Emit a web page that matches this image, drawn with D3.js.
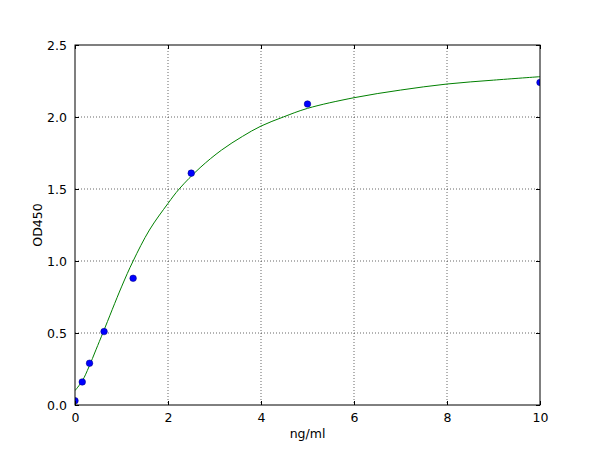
<!DOCTYPE html>
<html>
<head>
<meta charset="utf-8">
<script src="https://cdn.jsdelivr.net/npm/d3@7"></script>
<style>
  body { margin: 0; background: #fff; }
  svg text { font-family: "DejaVu Sans", sans-serif; fill: #000; }
</style>
</head>
<body>
<svg id="chart" width="600" height="450"></svg>
<script>
// standard points (concentration, OD)
const conc = [0, 0.156, 0.3125, 0.625, 1.25, 2.5, 5, 10];
const od = [0.03, 0.16, 0.29, 0.51, 0.88, 1.61, 2.09, 2.24];

// fitted curve
const curveX = [0, 0.156, 0.3, 0.45, 0.61, 1.0, 1.25, 1.6, 2.0, 2.24, 2.69, 3.15, 3.6, 4.0, 4.48, 5.0, 6.0, 7.0, 8.0, 9.0, 10.0];
const curveY = [0.10, 0.167, 0.265, 0.383, 0.509, 0.82, 1.0, 1.215, 1.40, 1.5, 1.648, 1.77, 1.865, 1.937, 2.0, 2.06, 2.134, 2.187, 2.229, 2.256, 2.28];

const xTicks = [0, 2, 4, 6, 8, 10];
const yTicks = [0.0, 0.5, 1.0, 1.5, 2.0, 2.5];

const svg = d3.select("#chart");
const m = {left: 75, right: 540, top: 45, bottom: 405};

let x = d3.scaleLinear().domain([0, 10]).range([m.left, m.right]);
let y = d3.scaleLinear().domain([0, 2.5]).range([m.bottom, m.top]);

// grid
let grid = svg.append("g");
grid.selectAll("line.gx").data(xTicks.slice(1, -1)).enter().append("line")
    .attr("x1", d => x(d)).attr("x2", d => x(d))
    .attr("y1", m.top).attr("y2", m.bottom)
    .attr("stroke", "#000").attr("stroke-width", 0.6)
    .attr("stroke-dasharray", "1,2");
grid.selectAll("line.gy").data(yTicks.slice(1, -1)).enter().append("line")
    .attr("y1", d => y(d)).attr("y2", d => y(d))
    .attr("x1", m.left).attr("x2", m.right)
    .attr("stroke", "#000").attr("stroke-width", 0.6)
    .attr("stroke-dasharray", "1,2");

svg.append("clipPath").attr("id", "clip")
    .append("rect").attr("x", m.left).attr("y", m.top)
    .attr("width", m.right - m.left).attr("height", m.bottom - m.top);

let plot = svg.append("g").attr("clip-path", "url(#clip)");

let line = d3.line()
    .x(d => x(d[0]))
    .y(d => y(d[1]))
    .curve(d3.curveCatmullRom);

plot.append("path")
    .datum(d3.zip(curveX, curveY))
    .attr("d", line)
    .attr("fill", "none")
    .attr("stroke", "#008000")
    .attr("stroke-width", 1);

plot.selectAll("circle").data(d3.zip(conc, od)).enter().append("circle")
    .attr("cx", d => x(d[0]))
    .attr("cy", d => y(d[1]))
    .attr("r", 3.3)
    .attr("fill", "#0000ff")
    .attr("stroke", "#00007a")
    .attr("stroke-width", 0.5);

// axes, ticks inward on all four sides
let xAxisB = d3.axisBottom(x).tickValues(xTicks).tickSizeInner(-4).tickSizeOuter(0)
    .tickPadding(8).tickFormat(d3.format("d"));
let xAxisT = d3.axisTop(x).tickValues(xTicks).tickSizeInner(-4).tickSizeOuter(0).tickFormat("");
let yAxisL = d3.axisLeft(y).tickValues(yTicks).tickSizeInner(-4).tickSizeOuter(0)
    .tickPadding(8).tickFormat(d3.format(".1f"));
let yAxisR = d3.axisRight(y).tickValues(yTicks).tickSizeInner(-4).tickSizeOuter(0).tickFormat("");

svg.append("g").attr("transform", `translate(0,${m.bottom})`).call(xAxisB);
svg.append("g").attr("transform", `translate(0,${m.top})`).call(xAxisT);
svg.append("g").attr("transform", `translate(${m.left},0)`).call(yAxisL);
svg.append("g").attr("transform", `translate(${m.right},0)`).call(yAxisR);

svg.selectAll(".domain").remove();
svg.selectAll(".tick line").attr("stroke", "#000").attr("stroke-width", 1);
svg.selectAll(".tick text").attr("font-size", 12.5).attr("font-family", "DejaVu Sans");

svg.append("rect")
    .attr("x", m.left).attr("y", m.top)
    .attr("width", m.right - m.left).attr("height", m.bottom - m.top)
    .attr("fill", "none").attr("stroke", "#000").attr("stroke-width", 1);

svg.append("text")
    .attr("x", (m.left + m.right) / 2).attr("y", 438)
    .attr("text-anchor", "middle").attr("font-size", 12.5)
    .text("ng/ml");

svg.append("text")
    .attr("transform", `translate(42,${(m.top + m.bottom) / 2}) rotate(-90)`)
    .attr("text-anchor", "middle").attr("font-size", 12.5)
    .text("OD450");
</script>
</body>
</html>
